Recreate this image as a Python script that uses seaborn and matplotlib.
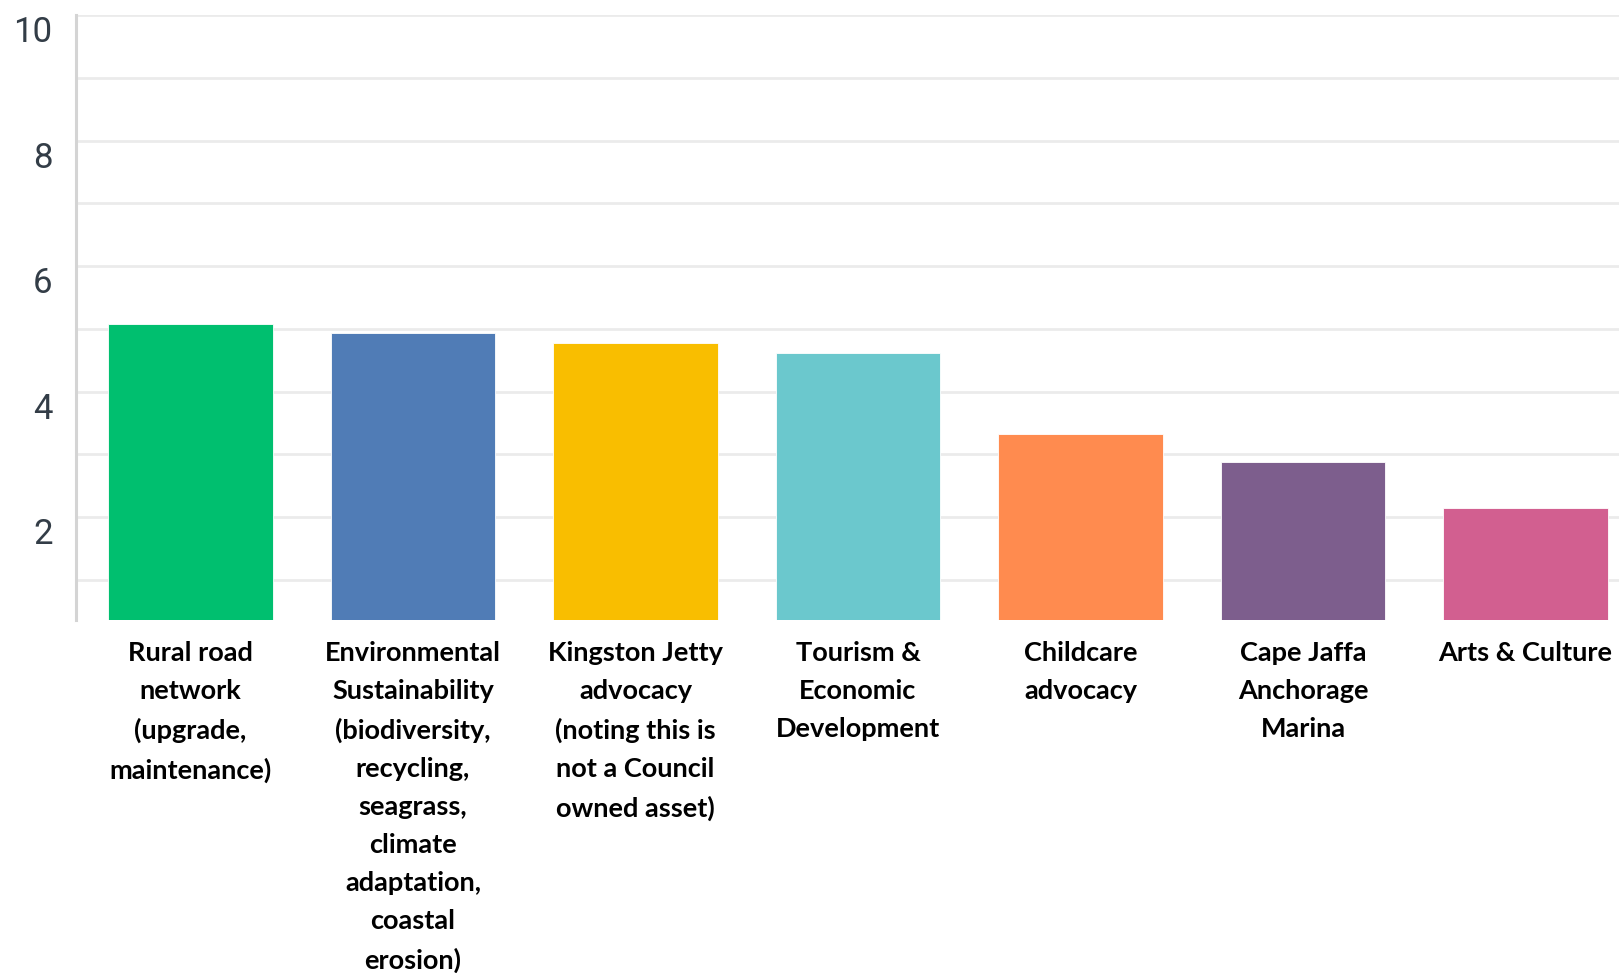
import matplotlib
matplotlib.use("Agg")
import matplotlib.pyplot as plt
import matplotlib.transforms as mtransforms
import seaborn as sns
import pandas as pd

categories = [
    "Rural road\nnetwork\n(upgrade,\nmaintenance)",
    "Environmental\nSustainability\n(biodiversity,\nrecycling,\nseagrass,\nclimate\nadaptation,\ncoastal\nerosion)",
    "Kingston Jetty\nadvocacy\n(noting this is\nnot a Council\nowned asset)",
    "Tourism &\nEconomic\nDevelopment",
    "Childcare\nadvocacy",
    "Cape Jaffa\nAnchorage\nMarina",
    "Arts & Culture",
]
values = [5.08, 4.93, 4.78, 4.62, 3.33, 2.88, 2.15]
colors = ["#00BF6F", "#507CB6", "#F9BE00", "#6BC8CD", "#FF8B4F", "#7D5E8D", "#D25F90"]
ytick_values = [2, 4, 6, 8, 10]
ytick_labels = ["2", "4", "6", "8", "10"]

sns.set_theme(style="white")
plt.rcParams['font.family'] = ['DejaVu Sans']

df = pd.DataFrame({"cat": categories, "val": values})

fig = plt.figure(figsize=(16.19, 9.73), dpi=100)
ax = fig.add_axes([76 / 1619, 1 - 620 / 973, 1 - 76 / 1619, (620 - 15) / 973])

sns.barplot(data=df, x="cat", y="val", hue="cat", palette=colors, legend=False,
            width=0.74, ax=ax, edgecolor="white", linewidth=0.6, saturation=1)

ax.set_ylim(0.36, 10)
ax.set_xlim(-0.514, 6.42)
ax.set_yticks(ytick_values)
ax.set_yticklabels(ytick_labels)
ax.set_yticks([1, 3, 5, 7, 9], minor=True)
ax.grid(True, axis="y", which="both", color="#ebebeb", linewidth=2)
ax.set_axisbelow(True)
ax.set_xlabel("")
ax.set_ylabel("")

for s in ["top", "right", "bottom"]:
    ax.spines[s].set_visible(False)
ax.spines["left"].set_color("#d4d4d4")
ax.spines["left"].set_linewidth(2.2)

ax.tick_params(axis="y", which="both", length=0, pad=17, labelsize=25, labelcolor="#333d47")
ax.tick_params(axis="x", length=0, pad=15)
offset = mtransforms.ScaledTranslation(0, -14 / 100, fig.dpi_scale_trans)
for lab in ax.get_yticklabels():
    lab.set_fontfamily("Roboto")
    lab.set_transform(lab.get_transform() + offset)

for lab in ax.get_xticklabels():
    lab.set_fontfamily("Lato")
    lab.set_fontweight("bold")
    lab.set_fontsize(19.5)
    lab.set_color("black")
    lab.set_linespacing(1.70)

fig.savefig("out.png", dpi=100, facecolor="white")
